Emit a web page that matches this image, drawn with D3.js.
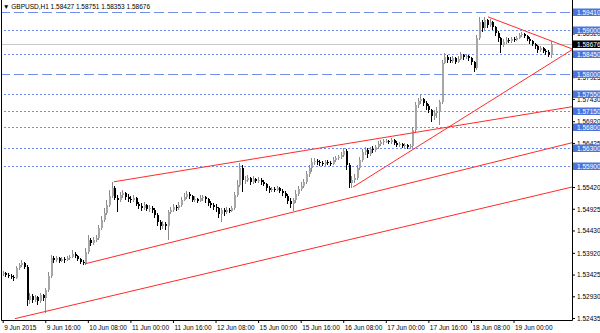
<!DOCTYPE html>
<html>
<head>
  <meta charset="utf-8">
  <script src="https://d3js.org/d3.v7.min.js"></script>
  <style>
    body { margin: 0; background: #fff; }
    text { font-family: "Liberation Sans", Arial, sans-serif; }
  </style>
</head>
<body>
<script>
var width = 600;
var height = 333;

var title = "\u25BC GBPUSD,H1  1.58427 1.58751 1.58353 1.58676";
var firstOpen = 1.5344;

// hourly closes / highs / lows, bar 0 = 9 Jun 2015 00:00
var closes = [
  1.5346,1.5342,1.5340,1.5337,1.5335,1.5358,1.5365,1.5369,1.5360,1.5285,
  1.5294,1.5285,1.5292,1.5283,1.5296,1.5289,1.5308,1.5340,1.5381,1.5376,
  1.5381,1.5374,1.5378,1.5376,1.5381,1.5383,1.5390,1.5385,1.5378,1.5371,
  1.5369,1.5394,1.5422,1.5415,1.5422,1.5426,1.5449,1.5467,1.5483,1.5501,
  1.5522,1.5540,1.5517,1.5513,1.5524,1.5529,1.5520,1.5515,1.5513,1.5517,
  1.5504,1.5499,1.5495,1.5501,1.5492,1.5495,1.5490,1.5479,1.5463,1.5454,
  1.5458,1.5454,1.5485,1.5490,1.5497,1.5495,1.5501,1.5513,1.5520,1.5526,
  1.5522,1.5513,1.5515,1.5511,1.5517,1.5520,1.5515,1.5506,1.5501,1.5497,
  1.5495,1.5481,1.5490,1.5485,1.5490,1.5488,1.5495,1.5524,1.5547,1.5586,
  1.5558,1.5558,1.5563,1.5554,1.5561,1.5556,1.5558,1.5554,1.5549,1.5540,
  1.5536,1.5538,1.5536,1.5540,1.5533,1.5529,1.5522,1.5511,1.5504,1.5513,
  1.5526,1.5538,1.5545,1.5554,1.5572,1.5586,1.5599,1.5602,1.5599,1.5597,
  1.5595,1.5599,1.5597,1.5595,1.5604,1.5609,1.5611,1.5615,1.5625,1.5593,
  1.5552,1.5558,1.5563,1.5586,1.5604,1.5622,1.5627,1.5618,1.5629,1.5627,
  1.5634,1.5640,1.5645,1.5647,1.5647,1.5645,1.5650,1.5643,1.5638,1.5640,
  1.5636,1.5638,1.5634,1.5636,1.5672,1.5729,1.5739,1.5743,1.5734,1.5727,
  1.5718,1.5704,1.5711,1.5713,1.5736,1.5825,1.5839,1.5832,1.5830,1.5837,
  1.5827,1.5834,1.5843,1.5839,1.5841,1.5837,1.5827,1.5814,1.5882,1.5919,
  1.5905,1.5923,1.5912,1.5919,1.5907,1.5894,1.5882,1.5866,1.5873,1.5878,
  1.5875,1.5880,1.5878,1.5882,1.5889,1.5891,1.5887,1.5880,1.5875,1.5868,
  1.5864,1.5855,1.5859,1.5853,1.5850,1.5843,1.58676
];
var highs = [
  1.5351,1.5349,1.5346,1.5344,1.5342,1.5362,1.5369,1.5376,1.5371,1.5365,
  1.5301,1.5298,1.5296,1.5294,1.5301,1.5298,1.5312,1.5349,1.5387,1.5385,
  1.5385,1.5383,1.5383,1.5383,1.5385,1.5387,1.5399,1.5394,1.5387,1.5381,
  1.5376,1.5403,1.5433,1.5426,1.5428,1.5433,1.5456,1.5476,1.5495,1.5513,
  1.5536,1.5554,1.5545,1.5524,1.5531,1.5536,1.5531,1.5526,1.5522,1.5524,
  1.5520,1.5508,1.5506,1.5508,1.5504,1.5501,1.5499,1.5495,1.5483,1.5467,
  1.5465,1.5463,1.5490,1.5497,1.5504,1.5501,1.5508,1.5520,1.5529,1.5533,
  1.5531,1.5524,1.5522,1.5517,1.5524,1.5524,1.5522,1.5517,1.5511,1.5506,
  1.5504,1.5497,1.5495,1.5495,1.5497,1.5495,1.5499,1.5531,1.5558,1.5597,
  1.5593,1.5568,1.5570,1.5565,1.5568,1.5563,1.5565,1.5563,1.5558,1.5552,
  1.5545,1.5542,1.5542,1.5545,1.5542,1.5538,1.5533,1.5526,1.5517,1.5517,
  1.5536,1.5545,1.5554,1.5561,1.5579,1.5593,1.5609,1.5609,1.5606,1.5604,
  1.5602,1.5604,1.5604,1.5602,1.5611,1.5613,1.5615,1.5622,1.5631,1.5629,
  1.5597,1.5568,1.5572,1.5593,1.5611,1.5629,1.5634,1.5631,1.5634,1.5636,
  1.5638,1.5647,1.5650,1.5652,1.5652,1.5650,1.5654,1.5652,1.5647,1.5645,
  1.5643,1.5643,1.5640,1.5640,1.5677,1.5736,1.5745,1.5754,1.5745,1.5739,
  1.5732,1.5720,1.5718,1.5725,1.5741,1.5832,1.5848,1.5843,1.5839,1.5841,
  1.5839,1.5841,1.5850,1.5846,1.5846,1.5843,1.5839,1.5830,1.5889,1.5930,
  1.5923,1.5930,1.5925,1.5925,1.5921,1.5910,1.5898,1.5884,1.5880,1.5884,
  1.5882,1.5884,1.5884,1.5887,1.5894,1.5896,1.5894,1.5889,1.5884,1.5878,
  1.5871,1.5866,1.5864,1.5862,1.5857,1.5855,1.58751
];
var lows = [
  1.5340,1.5337,1.5335,1.5333,1.5328,1.5333,1.5353,1.5360,1.5355,1.5271,
  1.5276,1.5278,1.5280,1.5273,1.5278,1.5283,1.5255,1.5303,1.5335,1.5369,
  1.5371,1.5369,1.5371,1.5369,1.5374,1.5376,1.5381,1.5381,1.5374,1.5367,
  1.5365,1.5365,1.5390,1.5408,1.5410,1.5417,1.5422,1.5444,1.5463,1.5479,
  1.5497,1.5517,1.5513,1.5485,1.5508,1.5517,1.5513,1.5508,1.5506,1.5508,
  1.5499,1.5492,1.5488,1.5490,1.5488,1.5485,1.5483,1.5472,1.5454,1.5444,
  1.5447,1.5444,1.5422,1.5481,1.5485,1.5488,1.5490,1.5497,1.5511,1.5515,
  1.5515,1.5508,1.5508,1.5506,1.5508,1.5511,1.5506,1.5499,1.5495,1.5490,
  1.5485,1.5472,1.5463,1.5476,1.5481,1.5483,1.5485,1.5490,1.5520,1.5542,
  1.5531,1.5549,1.5554,1.5547,1.5549,1.5552,1.5552,1.5547,1.5545,1.5533,
  1.5529,1.5531,1.5531,1.5533,1.5529,1.5522,1.5517,1.5504,1.5495,1.5488,
  1.5506,1.5522,1.5533,1.5540,1.5549,1.5565,1.5577,1.5593,1.5593,1.5590,
  1.5590,1.5590,1.5593,1.5590,1.5593,1.5599,1.5604,1.5606,1.5611,1.5581,
  1.5540,1.5540,1.5552,1.5558,1.5581,1.5599,1.5615,1.5609,1.5613,1.5620,
  1.5622,1.5629,1.5636,1.5638,1.5643,1.5640,1.5640,1.5638,1.5634,1.5634,
  1.5631,1.5631,1.5629,1.5629,1.5631,1.5668,1.5723,1.5732,1.5727,1.5718,
  1.5711,1.5691,1.5695,1.5700,1.5684,1.5732,1.5823,1.5825,1.5825,1.5825,
  1.5823,1.5825,1.5832,1.5832,1.5834,1.5830,1.5821,1.5805,1.5809,1.5878,
  1.5896,1.5900,1.5905,1.5907,1.5900,1.5887,1.5873,1.5848,1.5862,1.5868,
  1.5871,1.5871,1.5873,1.5875,1.5880,1.5884,1.5882,1.5875,1.5868,1.5864,
  1.5857,1.5848,1.5850,1.5848,1.5843,1.5839,1.58353
];

var xTickBars = [0, 16, 32, 48, 64, 80, 96, 112, 128, 144, 160, 176, 192];
var xLabels = ["9 Jun 2015", "9 Jun 16:00", "10 Jun 08:00", "11 Jun 00:00", "11 Jun 16:00",
  "12 Jun 08:00", "15 Jun 00:00", "15 Jun 16:00", "16 Jun 08:00", "17 Jun 00:00",
  "17 Jun 16:00", "18 Jun 08:00", "19 Jun 00:00"];

// scale labels that are not hidden behind a level box
var yTicks = [1.52435, 1.52930, 1.53425, 1.53920, 1.54430, 1.54925, 1.55420,
  1.56425, 1.56920, 1.57430, 1.57925, 1.58920];

var levels = [1.59410, 1.59000, 1.58450, 1.58000, 1.57550, 1.57150, 1.56800, 1.56300, 1.55900];
var levelStyle = ["dash", "dot", "dot", "dash", "dot", "dot", "dot", "dot", "dot"];
var bid = 1.58676;

// trend lines: [bar, price] -> [bar, price]
var trendLines = [
  [[4.6, 1.5242], [214, 1.5542]],
  [[30.9, 1.5367], [214, 1.5643]],
  [[41.8, 1.5554], [214, 1.5725]],
  [[131.7, 1.5542], [214, 1.5855]],
  [[182.4, 1.5930], [214, 1.5857]]
];

var plotRight = 572, plotBottom = 320;

var x = d3.scaleLinear().domain([0, 192]).range([2.7, 513.5]);
var y = d3.scaleLinear().domain([1.52435, 1.59410]).range([318, 12]);

var bars = closes.map(function(c, i) {
  return { i: i, o: i == 0 ? firstOpen : closes[i - 1], h: highs[i], l: lows[i], c: c };
});

var svg = d3.select("body")
  .append("svg")
  .attr("width", width)
  .attr("height", height)
  .style("background-color", "#fff");

svg.append("clipPath").attr("id", "plot")
  .append("rect").attr("x", 1).attr("y", 0).attr("width", plotRight - 1).attr("height", plotBottom);

// price scale labels (drawn first, level boxes cover them)
var yAxis = svg.append("g")
  .attr("transform", "translate(" + plotRight + ",0)")
  .call(d3.axisRight(y).tickValues(yTicks).tickSize(3).tickFormat(d3.format(".5f")));
yAxis.select(".domain").remove();
yAxis.selectAll("line").attr("stroke", "#000");
yAxis.selectAll("text").attr("x", 5).attr("dy", "0.35em")
  .style("font-size", "6.5px").attr("fill", "#000");

var xAxis = svg.append("g")
  .attr("transform", "translate(0," + plotBottom + ")")
  .call(d3.axisBottom(x).tickValues(xTickBars).tickSize(3)
    .tickFormat(function(d, k) { return xLabels[k]; }));
xAxis.select(".domain").remove();
xAxis.selectAll("line").attr("stroke", "#000");
xAxis.selectAll("text").attr("text-anchor", "start").attr("x", 1).attr("y", 5).attr("dy", "0.71em")
  .style("font-size", "6.5px").attr("fill", "#000");

var plot = svg.append("g").attr("clip-path", "url(#plot)");

// horizontal levels
plot.selectAll(".level")
  .data(levels)
  .enter()
  .append("line")
  .attr("x1", 0).attr("x2", plotRight)
  .attr("y1", function(d) { return Math.round(y(d)) + 0.5; })
  .attr("y2", function(d) { return Math.round(y(d)) + 0.5; })
  .attr("stroke", "#6f8fea")
  .attr("stroke-dasharray", function(d, k) { return levelStyle[k] == "dash" ? "10,4" : "2,2"; });

plot.append("line")
  .attr("x1", 0).attr("x2", plotRight)
  .attr("y1", Math.round(y(bid)) + 0.5).attr("y2", Math.round(y(bid)) + 0.5)
  .attr("stroke", "#c8c8c8");

// candles
var candle = plot.selectAll(".bar")
  .data(bars)
  .enter()
  .append("g")
  .attr("shape-rendering", "crispEdges");

candle.append("line")
  .attr("x1", function(d) { return Math.round(x(d.i)) + 0.5; })
  .attr("x2", function(d) { return Math.round(x(d.i)) + 0.5; })
  .attr("y1", function(d) { return y(d.h); })
  .attr("y2", function(d) { return y(d.l); })
  .attr("stroke", function(d) { return d.c >= d.o ? "#8c8c8c" : "#000"; });

candle.append("rect")
  .attr("x", function(d) { return Math.round(x(d.i)) - 0.5; })
  .attr("width", 2)
  .attr("y", function(d) { return y(Math.max(d.o, d.c)); })
  .attr("height", function(d) { return Math.max(1, Math.abs(y(d.o) - y(d.c))); })
  .attr("fill", function(d) { return d.c >= d.o ? "#a6a6a6" : "#000"; });

// trend lines
plot.selectAll(".trend")
  .data(trendLines)
  .enter()
  .append("line")
  .attr("x1", function(d) { return x(d[0][0]); })
  .attr("y1", function(d) { return y(d[0][1]); })
  .attr("x2", function(d) { return x(d[1][0]); })
  .attr("y2", function(d) { return y(d[1][1]); })
  .attr("stroke", "#ff2a2a")
  .attr("stroke-width", 1);

// frame
svg.append("line").attr("x1", 1.5).attr("x2", 1.5).attr("y1", 0).attr("y2", plotBottom + 0.5).attr("stroke", "#000");
svg.append("line").attr("x1", plotRight + 0.5).attr("x2", plotRight + 0.5).attr("y1", 0).attr("y2", plotBottom + 0.5).attr("stroke", "#000");
svg.append("line").attr("x1", 1.5).attr("x2", plotRight + 0.5).attr("y1", plotBottom + 0.5).attr("y2", plotBottom + 0.5).attr("stroke", "#000");

// level price boxes on the scale
var tags = levels.map(function(v) { return { v: v, bg: "#4a74dc" }; });
tags.push({ v: bid, bg: "#000" });

var tag = svg.selectAll(".tag")
  .data(tags)
  .enter()
  .append("g")
  .attr("transform", function(d) { return "translate(" + (plotRight + 1) + "," + Math.round(y(d.v)) + ")"; });

tag.append("rect")
  .attr("x", 0).attr("y", -3.5).attr("width", 28).attr("height", 7.5)
  .attr("fill", function(d) { return d.bg; });

tag.append("text")
  .attr("x", 4).attr("y", 0.5).attr("dy", "0.35em")
  .style("font-size", "6.5px")
  .attr("fill", "#fff")
  .text(function(d) { return d3.format(".5f")(d.v); });

svg.append("text")
  .attr("x", 3).attr("y", 9)
  .style("font-size", "6.5px")
  .attr("fill", "#000")
  .text(title);
</script>
</body>
</html>
